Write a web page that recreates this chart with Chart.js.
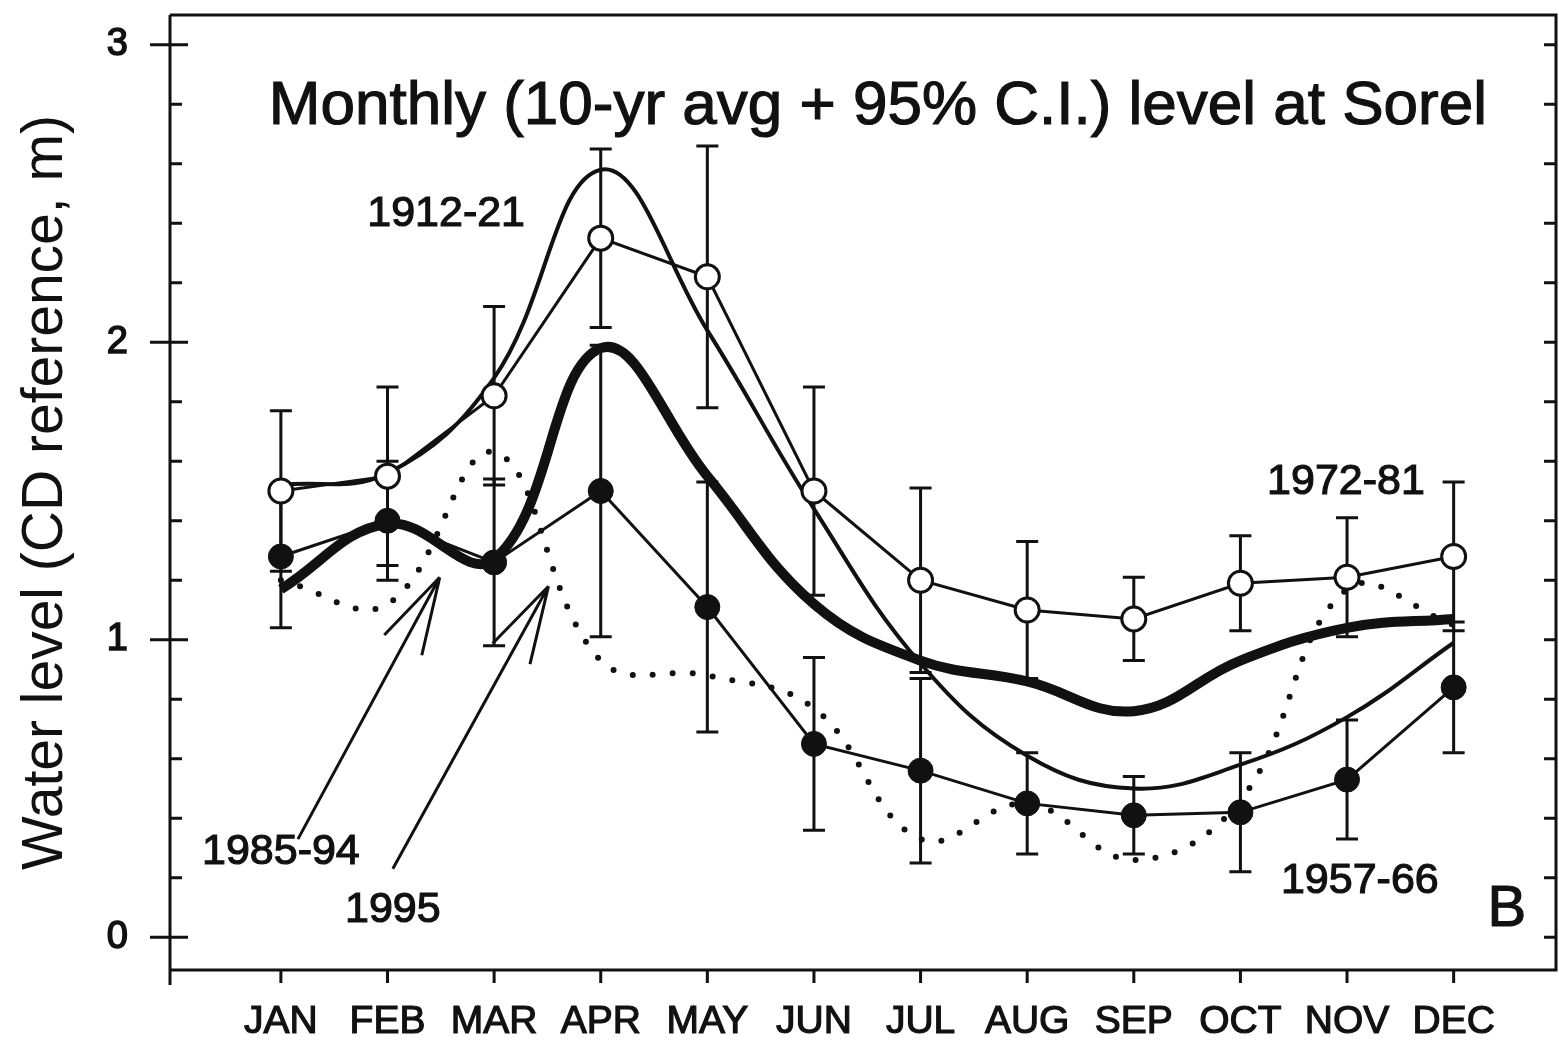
<!DOCTYPE html>
<html>
<head>
<meta charset="utf-8">
<title>Monthly level at Sorel</title>
<script src="https://cdn.jsdelivr.net/npm/chart.js@4.4.1/dist/chart.umd.min.js"></script>
<style>
  html, body { margin: 0; padding: 0; background: #fff; overflow: hidden; }
  #wrap { width: 1559px; height: 1043px; }
  canvas { display: block; }
</style>
</head>
<body>
<div id="wrap"><canvas id="levelChart" width="1559" height="1043"></canvas></div>
<script>
// Monthly water level at Sorel (CD reference, m), 10-yr averages + 95% C.I.
const MONTHS = ['JAN', 'FEB', 'MAR', 'APR', 'MAY', 'JUN', 'JUL', 'AUG', 'SEP', 'OCT', 'NOV', 'DEC'];
const Y_TICKS = [0, 1, 2, 3];

// open circles
const LEVEL_1972_81 = [1.50, 1.55, 1.82, 2.35, 2.22, 1.50, 1.20, 1.10, 1.07, 1.19, 1.21, 1.28];
const CI_1972_81 = [0.27, 0.30, 0.30, 0.30, 0.44, 0.35, 0.31, 0.23, 0.14, 0.16, 0.20, 0.25];
// filled circles
const LEVEL_1957_66 = [1.28, 1.40, 1.26, 1.50, 1.11, 0.65, 0.56, 0.45, 0.41, 0.42, 0.53, 0.84];
const CI_1957_66 = [0.24, 0.20, 0.28, 0.49, 0.42, 0.29, 0.31, 0.17, 0.13, 0.20, 0.20, 0.22];
// smooth curves, no markers
const LEVEL_1912_21 = [1.52, 1.56, 1.88, 2.58, 2.04, 1.44, 0.92, 0.61, 0.50, 0.58, 0.74, 0.99];
const LEVEL_1985_94 = [1.17, 1.39, 1.27, 1.98, 1.55, 1.12, 0.93, 0.86, 0.76, 0.93, 1.04, 1.07];
const LEVEL_1995 = [1.20, 1.12, 1.63, 0.93, 0.88, 0.77, 0.33, 0.45, 0.26, 0.46, 1.17, 1.05];

(() => {
    'use strict';

    const FONT = '"Liberation Sans", Arial, Helvetica, sans-serif';
    const INK = '#111';

    // axis ranges (month index / metres)
    const X_MIN = -1.04, X_MAX = 11.96;
    const Y_MIN = -0.11, Y_MAX = 3.1;

    // text placed inside the plot, in data units
    const NOTES = [
        { text: 'Monthly (10-yr avg + 95% C.I.) level at Sorel', x: 5.6, y: 2.735, size: 62, baseline: 'alphabetic' },
        { text: '1912-21', x: 1.55, y: 2.43, size: 43 },
        { text: '1972-81', x: 9.99, y: 1.53, size: 43 },
        { text: '1957-66', x: 10.12, y: 0.19, size: 43 },
        { text: '1985-94', x: 0.0, y: 0.286, size: 43 },
        { text: '1995', x: 1.05, y: 0.09, size: 43 },
        { text: 'B', x: 11.5, y: 0.09, size: 58 }
    ];

    // arrows from the 1985-94 / 1995 labels to their curves
    const ARROWS = [
        { from: [0.16, 0.33], to: [1.49, 1.21] },
        { from: [1.05, 0.23], to: [2.51, 1.18] }
    ];

    const toPoints = arr => arr.map((v, i) => ({ x: i, y: v }));

    // no auto padding: the plot box is fixed by afterFit + layout padding
    function fixBox(s, size) {
        if (s.isHorizontal()) s.height = size; else s.width = size;
        s.paddingTop = s.paddingBottom = s.paddingLeft = s.paddingRight = 0;
    }

    function drawErrorBars(chart, values, ci) {
        const { ctx, scales: { x, y } } = chart;
        ctx.save();
        ctx.strokeStyle = INK;
        ctx.lineWidth = 3;
        values.forEach((v, i) => {
            const px = x.getPixelForValue(i);
            const top = y.getPixelForValue(v + ci[i]);
            const bot = y.getPixelForValue(v - ci[i]);
            ctx.beginPath();
            ctx.moveTo(px, top); ctx.lineTo(px, bot);
            ctx.moveTo(px - 11, top); ctx.lineTo(px + 11, top);
            ctx.moveTo(px - 11, bot); ctx.lineTo(px + 11, bot);
            ctx.stroke();
        });
        ctx.restore();
    }

    function drawFrame(chart) {
        const { ctx, chartArea: a, scales: { x, y } } = chart;
        ctx.save();
        ctx.strokeStyle = INK;
        ctx.lineWidth = 3;
        ctx.beginPath();
        ctx.moveTo(a.left, a.top); ctx.lineTo(a.right, a.top);
        ctx.lineTo(a.right, a.bottom); ctx.lineTo(a.left, a.bottom);
        ctx.moveTo(a.left, a.top); ctx.lineTo(a.left, a.bottom + 15);

        // left axis: crossing major ticks, inner minor ticks
        for (let v = 0; v <= 3.001; v += 0.2) {
            const py = y.getPixelForValue(v);
            const major = Math.abs(v - Math.round(v)) < 0.01;
            ctx.moveTo(major ? a.left - 20 : a.left, py);
            ctx.lineTo(a.left + (major ? 18 : 12), py);
            // right axis ticks point inward
            ctx.moveTo(a.right, py); ctx.lineTo(a.right - 12, py);
        }
        // month ticks below the x axis
        MONTHS.forEach((m, i) => {
            const px = x.getPixelForValue(i);
            ctx.moveTo(px, a.bottom); ctx.lineTo(px, a.bottom + 13);
        });
        ctx.stroke();
        ctx.restore();
    }

    function drawNotes(chart) {
        const { ctx, scales: { x, y } } = chart;
        ctx.save();
        ctx.fillStyle = INK;
        ctx.strokeStyle = INK;
        ctx.lineWidth = 1.2;
        ctx.textAlign = 'center';
        NOTES.forEach(n => {
            const px = x.getPixelForValue(n.x), py = y.getPixelForValue(n.y);
            ctx.font = `${n.size}px ${FONT}`;
            ctx.textBaseline = n.baseline || 'middle';
            ctx.fillText(n.text, px, py);
            ctx.strokeText(n.text, px, py);
        });
        ctx.restore();
    }

    function drawArrows(chart) {
        const { ctx, scales: { x, y } } = chart;
        ctx.save();
        ctx.strokeStyle = INK;
        ctx.lineWidth = 3;
        ARROWS.forEach(ar => {
            const x0 = x.getPixelForValue(ar.from[0]), y0 = y.getPixelForValue(ar.from[1]);
            const x1 = x.getPixelForValue(ar.to[0]), y1 = y.getPixelForValue(ar.to[1]);
            const ang = Math.atan2(y0 - y1, x0 - x1);
            ctx.beginPath();
            ctx.moveTo(x0, y0); ctx.lineTo(x1, y1);
            [-0.27, 0.27].forEach(d => {
                ctx.moveTo(x1, y1);
                ctx.lineTo(x1 + 80 * Math.cos(ang + d), y1 + 80 * Math.sin(ang + d));
            });
            ctx.stroke();
        });
        ctx.restore();
    }

    const decorPlugin = {
        id: 'decor',
        beforeDatasetsDraw(chart) {
            drawErrorBars(chart, LEVEL_1972_81, CI_1972_81);
            drawErrorBars(chart, LEVEL_1957_66, CI_1957_66);
        },
        afterDraw(chart) {
            drawFrame(chart);
            drawArrows(chart);
            drawNotes(chart);
        }
    };

    function init() {
        const ctx = document.getElementById('levelChart').getContext('2d');
        new Chart(ctx, {
            type: 'line',
            data: {
                datasets: [
                    {
                        label: '1972-81',
                        data: toPoints(LEVEL_1972_81),
                        borderColor: INK, borderWidth: 3, tension: 0,
                        pointRadius: 12, pointBorderWidth: 3,
                        pointBackgroundColor: '#fff', pointBorderColor: INK
                    },
                    {
                        label: '1957-66',
                        data: toPoints(LEVEL_1957_66),
                        borderColor: INK, borderWidth: 3, tension: 0,
                        pointRadius: 12.5, pointBorderWidth: 1,
                        pointBackgroundColor: INK, pointBorderColor: INK
                    },
                    {
                        label: '1985-94',
                        data: toPoints(LEVEL_1985_94),
                        borderColor: INK, borderWidth: 10, tension: 0.4,
                        pointRadius: 0
                    },
                    {
                        label: '1912-21',
                        data: toPoints(LEVEL_1912_21),
                        borderColor: INK, borderWidth: 4, tension: 0.4,
                        pointRadius: 0
                    },
                    {
                        label: '1995',
                        data: toPoints(LEVEL_1995),
                        borderColor: INK, borderWidth: 6, tension: 0.4,
                        borderDash: [0, 20], borderCapStyle: 'round',
                        pointRadius: 0
                    }
                ]
            },
            options: {
                responsive: false,
                animation: false,
                layout: { autoPadding: false, padding: { top: 15, right: 3, left: 0, bottom: 0 } },
                plugins: {
                    legend: { display: false },
                    tooltip: { enabled: false }
                },
                scales: {
                    x: {
                        type: 'linear',
                        min: X_MIN,
                        max: X_MAX,
                        grid: { display: false, drawTicks: false },
                        border: { display: false },
                        afterBuildTicks: s => { s.ticks = MONTHS.map((m, i) => ({ value: i })); },
                        afterFit: s => fixBox(s, 73),
                        ticks: {
                            callback: v => MONTHS[v] ?? '',
                            autoSkip: false,
                            maxRotation: 0,
                            padding: 29,
                            color: INK,
                            textStrokeColor: INK,
                            textStrokeWidth: 1.2,
                            font: { family: FONT, size: 39 }
                        }
                    },
                    y: {
                        min: Y_MIN,
                        max: Y_MAX,
                        grid: { display: false, drawTicks: false },
                        border: { display: false },
                        afterBuildTicks: s => { s.ticks = Y_TICKS.map(v => ({ value: v })); },
                        afterFit: s => fixBox(s, 170),
                        ticks: {
                            padding: 42,
                            color: INK,
                            textStrokeColor: INK,
                            textStrokeWidth: 1.5,
                            font: { family: FONT, size: 38 }
                        },
                        title: {
                            display: true,
                            text: 'Water level (CD reference, m)',
                            color: INK,
                            padding: { top: 12, bottom: 0 },
                            font: { family: FONT, size: 57 }
                        }
                    }
                }
            },
            plugins: [decorPlugin]
        });
    }

    document.addEventListener('DOMContentLoaded', init);
})();
</script>
</body>
</html>
